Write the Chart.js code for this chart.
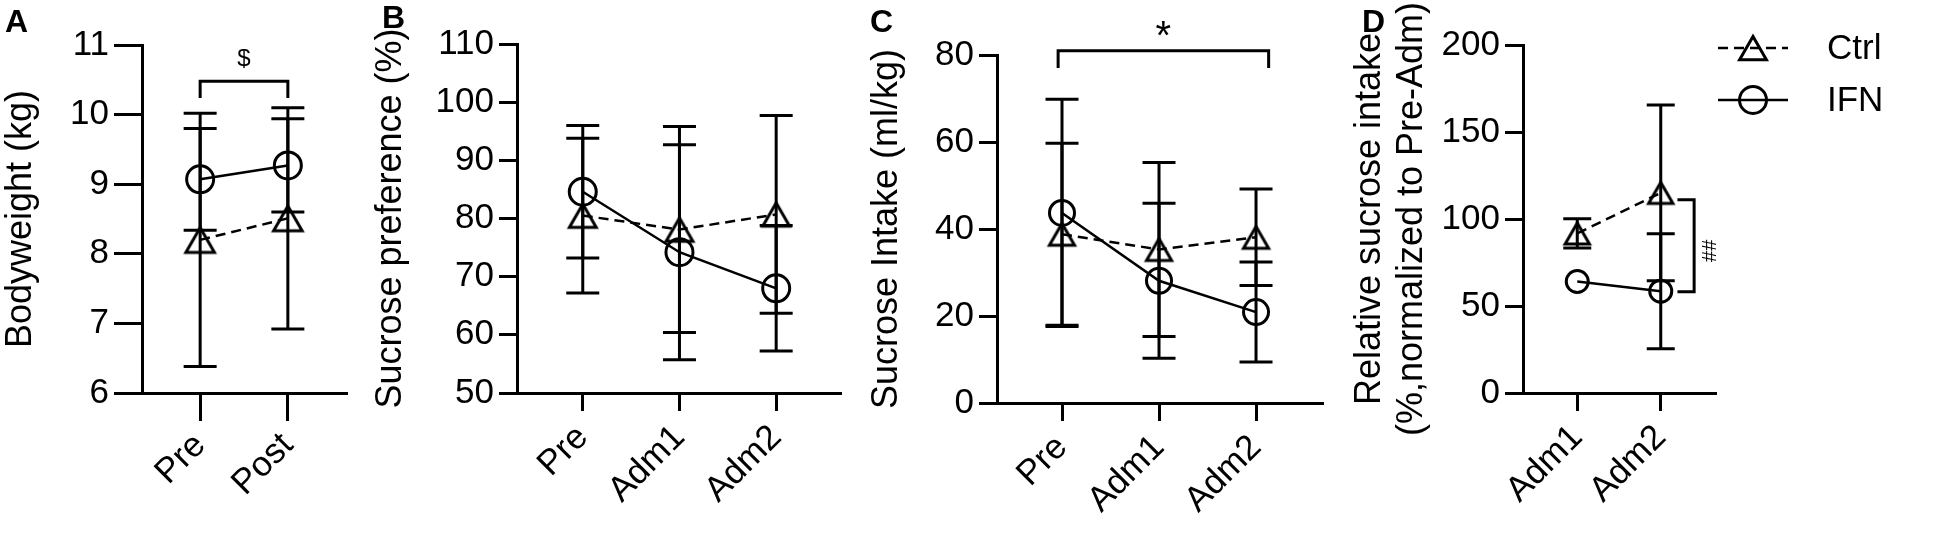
<!DOCTYPE html>
<html>
<head>
<meta charset="utf-8">
<script src="https://cdn.jsdelivr.net/npm/chart.js@4.4.1/dist/chart.umd.min.js"></script>
<style>
  html, body { margin: 0; padding: 0; background: #fff; }
  body { width: 1949px; height: 543px; position: relative; overflow: hidden; }
  .panel { position: absolute; top: 0; height: 543px; }
</style>
</head>
<body>
<div class="panel" style="left:0px;width:365px"><canvas id="chartA"></canvas></div>
<div class="panel" style="left:360px;width:500px"><canvas id="chartB"></canvas></div>
<div class="panel" style="left:860px;width:480px"><canvas id="chartC"></canvas></div>
<div class="panel" style="left:1345px;width:604px"><canvas id="chartD"></canvas></div>
<script>
/* =========================================================
   DATA (mean and SD)
========================================================= */

const groupNames = ["Ctrl", "IFN"];

// A - bodyweight (kg)
const weightLabels = ["Pre", "Post"];
const weightTicks = [6, 7, 8, 9, 10, 11];
const weightCtrl = [8.2, 8.51];
const weightCtrlSd = [1.82, 1.59];
const weightIfn = [9.07, 9.27];
const weightIfnSd = [0.73, 0.67];

// B - sucrose preference (%)
const prefLabels = ["Pre", "Adm1", "Adm2"];
const prefTicks = [50, 60, 70, 80, 90, 100, 110];
const prefCtrl = [80.5, 78.1, 80.7];
const prefCtrlSd = [13.3, 17.7, 17.0];
const prefIfn = [84.6, 74.2, 68.0];
const prefIfnSd = [11.4, 18.5, 10.8];

// C - sucrose intake (ml/kg)
const intakeLabels = ["Pre", "Adm1", "Adm2"];
const intakeTicks = [0, 20, 40, 60, 80];
const intakeCtrl = [38.8, 35.3, 38.1];
const intakeCtrlSd = [20.9, 20.0, 11.1];
const intakeIfn = [43.7, 28.1, 20.9];
const intakeIfnSd = [26.1, 17.8, 11.5];

// D - relative sucrose intake (% of Pre-Adm)
const relLabels = ["Adm1", "Adm2"];
const relTicks = [0, 50, 100, 150, 200];
const relCtrl = [91.7, 115.0];
const relCtrlSd = [8.4, 50.5];
const relIfn = [64.1, 58.5];
const relIfnSd = [0, 33.0];

/* =========================================================
   HELPERS
========================================================= */

const FONT = "'Liberation Sans', Arial, Helvetica, sans-serif";

function toPoints(values) {
  return values.map((v, i) => ({ x: i, y: v }));
}

// open triangle, centred on its bounding box like the original software does
function triangleImage(r, lw) {
  const s = Math.sqrt(3);
  const w = Math.ceil(r * s + lw * 3);
  const h = Math.ceil(r * 1.5 + lw * 4);
  const c = document.createElement("canvas");
  c.width = w;
  c.height = h;
  const g = c.getContext("2d");
  g.strokeStyle = "#000";
  g.lineWidth = lw;
  const cx = w / 2;
  const top = h / 2 - r * 0.75;
  g.beginPath();
  g.moveTo(cx, top);
  g.lineTo(cx + r * s / 2, top + 1.5 * r);
  g.lineTo(cx - r * s / 2, top + 1.5 * r);
  g.closePath();
  g.stroke();
  return c;
}

/* =========================================================
   PLUGINS
========================================================= */

const errorBars = {
  id: "errorBars",
  beforeDatasetsDraw(chart, args, opts) {
    const { ctx } = chart;
    const x = chart.scales.x;
    const y = chart.scales.y;
    ctx.save();
    ctx.strokeStyle = "#000";
    ctx.lineWidth = 3;
    chart.data.datasets.forEach(ds => {
      ds.data.forEach((pt, i) => {
        const sd = ds.sd[i];
        if (!sd) return;
        const px = x.getPixelForValue(pt.x);
        const top = y.getPixelForValue(pt.y + sd);
        const bot = y.getPixelForValue(pt.y - sd);
        const cap = opts.cap;
        ctx.beginPath();
        ctx.moveTo(px, top);
        ctx.lineTo(px, bot);
        ctx.moveTo(px - cap, top);
        ctx.lineTo(px + cap, top);
        ctx.moveTo(px - cap, bot);
        ctx.lineTo(px + cap, bot);
        ctx.stroke();
      });
    });
    ctx.restore();
  }
};

const notes = {
  id: "notes",
  afterDraw(chart, args, opts) {
    const { ctx } = chart;
    const x = chart.scales.x;
    const y = chart.scales.y;
    ctx.save();
    ctx.fillStyle = "#000";
    ctx.strokeStyle = "#000";
    ctx.lineWidth = 3;

    // panel letter
    if (opts.letter) {
      ctx.font = "bold 32px " + FONT;
      ctx.textAlign = "left";
      ctx.textBaseline = "alphabetic";
      ctx.fillText(opts.letter.text, opts.letter.x, opts.letter.y);
    }

    // significance brackets between time points
    (opts.brackets || []).forEach(b => {
      const x0 = x.getPixelForValue(b.x0);
      const x1 = x.getPixelForValue(b.x1);
      const yt = y.getPixelForValue(b.top);
      const yl = y.getPixelForValue(b.leg);
      ctx.beginPath();
      ctx.moveTo(x0, yl);
      ctx.lineTo(x0, yt);
      ctx.lineTo(x1, yt);
      ctx.lineTo(x1, yl);
      ctx.stroke();
      ctx.font = b.size + "px " + FONT;
      ctx.textAlign = "center";
      ctx.textBaseline = "alphabetic";
      ctx.fillText(b.text, (x0 + x1) / 2, y.getPixelForValue(b.textY));
    });

    // significance bracket between groups (vertical)
    (opts.sideBrackets || []).forEach(b => {
      const xb = x.getPixelForValue(b.x);
      const xl = x.getPixelForValue(b.leg);
      const y0 = y.getPixelForValue(b.y0);
      const y1 = y.getPixelForValue(b.y1);
      ctx.beginPath();
      ctx.moveTo(xl, y0);
      ctx.lineTo(xb, y0);
      ctx.lineTo(xb, y1);
      ctx.lineTo(xl, y1);
      ctx.stroke();
      ctx.save();
      ctx.translate(x.getPixelForValue(b.textX), (y0 + y1) / 2 + 5);
      ctx.rotate(-Math.PI / 2);
      ctx.font = b.size + "px " + FONT;
      ctx.textAlign = "center";
      ctx.textBaseline = "middle";
      ctx.fillText(b.text, 0, 0);
      ctx.restore();
    });

    // legend: line + symbol + name
    if (opts.legend) {
      const L = opts.legend;
      chart.data.datasets.forEach((ds, i) => {
        const ly = L.rows[i];
        ctx.save();
        ctx.lineWidth = ds.borderWidth;
        ctx.setLineDash(ds.borderDash || []);
        ctx.beginPath();
        ctx.moveTo(L.x0, ly);
        ctx.lineTo(L.x1, ly);
        ctx.stroke();
        ctx.restore();
        const mx = (L.x0 + L.x1) / 2;
        if (ds.legendMarker) {
          const img = ds.legendMarker;
          ctx.drawImage(img, mx - img.width / 2, ly - img.height / 2);
        } else {
          ctx.beginPath();
          ctx.arc(mx, ly, L.circle, 0, Math.PI * 2);
          ctx.stroke();
        }
        ctx.font = "35px " + FONT;
        ctx.textAlign = "left";
        ctx.textBaseline = "middle";
        ctx.fillText(ds.label, L.tx, ly + 1);
      });
    }
    ctx.restore();
  }
};

/* =========================================================
   PANEL BUILDER
========================================================= */

function makePanel(id, p) {
  const tick = { size: 35, family: FONT };
  return new Chart(document.getElementById(id), {
    type: "line",
    data: {
      datasets: [
        {
          label: groupNames[0],
          data: toPoints(p.ctrl),
          sd: p.ctrlSd,
          borderColor: "#000",
          borderWidth: 2.5,
          borderDash: [10, 6],
          pointStyle: triangleImage(p.tri, 3),
          legendMarker: p.legend ? triangleImage(15.5, 3) : null,
          pointRadius: p.tri,
          tension: 0,
          fill: false
        },
        {
          label: groupNames[1],
          data: toPoints(p.ifn),
          sd: p.ifnSd,
          borderColor: "#000",
          borderWidth: 2.5,
          pointStyle: "circle",
          pointRadius: p.circ,
          pointBorderWidth: 3,
          pointBorderColor: "#000",
          pointBackgroundColor: "rgba(0,0,0,0)",
          tension: 0,
          fill: false
        }
      ]
    },
    options: {
      responsive: true,
      maintainAspectRatio: false,
      animation: false,
      events: [],
      layout: { padding: p.padding },
      scales: {
        x: {
          type: "linear",
          min: p.xRange[0],
          max: p.xRange[1],
          afterBuildTicks: s => { s.ticks = p.labels.map((_, i) => ({ value: i })); },
          afterFit: s => { s.height = p.xh; },
          ticks: {
            autoSkip: false,
            minRotation: 45,
            maxRotation: 45,
            padding: p.xPad,
            color: "#000",
            font: tick,
            callback: v => p.labels[v]
          },
          grid: { drawOnChartArea: false, drawTicks: true, tickLength: p.tl, color: "#000", lineWidth: 3 },
          border: { display: true, color: "#000", width: 3 }
        },
        y: {
          min: p.yTicks[0],
          max: p.yTicks[p.yTicks.length - 1],
          afterBuildTicks: s => { s.ticks = p.yTicks.map(v => ({ value: v })); },
          afterFit: s => { s.width = p.yw; },
          ticks: { padding: 5, color: "#000", font: tick },
          grid: { drawOnChartArea: false, drawTicks: true, tickLength: p.tl, color: "#000", lineWidth: 3 },
          border: { display: true, color: "#000", width: 3 },
          title: {
            display: true,
            text: p.title,
            color: "#000",
            font: { size: 36, family: FONT, lineHeight: 1.17 },
            padding: { top: p.titlePad, bottom: 0 }
          }
        }
      },
      plugins: {
        legend: { display: false },
        tooltip: { enabled: false },
        errorBars: { cap: p.cap },
        notes: p.notes
      }
    },
    plugins: [errorBars, notes]
  });
}

/* =========================================================
   PANELS
========================================================= */

makePanel("chartA", {
  labels: weightLabels, yTicks: weightTicks,
  ctrl: weightCtrl, ctrlSd: weightCtrlSd, ifn: weightIfn, ifnSd: weightIfnSd,
  title: "Bodyweight (kg)", titlePad: 0,
  padding: { left: 0, top: 45, right: 10, bottom: 0 },
  yw: 142, xh: 150, tl: 28, xPad: 4, xRange: [-0.663, 1.663],
  tri: 16.5, circ: 13.5, cap: 16.5,
  notes: {
    letter: { text: "A", x: 5, y: 32 },
    brackets: [{ x0: 0, x1: 1, top: 10.48, leg: 10.24, text: "$", size: 24, textY: 10.7 }]
  }
});

makePanel("chartB", {
  labels: prefLabels, yTicks: prefTicks,
  ctrl: prefCtrl, ctrlSd: prefCtrlSd, ifn: prefIfn, ifnSd: prefIfnSd,
  title: "Sucrose preference (%)", titlePad: 10,
  padding: { left: 0, top: 44, right: 20, bottom: 0 },
  yw: 157, xh: 150, tl: 18, xPad: 6, xRange: [-0.68, 2.66],
  tri: 15.5, circ: 13.5, cap: 16.5,
  notes: {
    letter: { text: "B", x: 22, y: 28 }
  }
});

makePanel("chartC", {
  labels: intakeLabels, yTicks: intakeTicks,
  ctrl: intakeCtrl, ctrlSd: intakeCtrlSd, ifn: intakeIfn, ifnSd: intakeIfnSd,
  title: "Sucrose Intake (ml/kg)", titlePad: 6,
  padding: { left: 0, top: 55, right: 18, bottom: 0 },
  yw: 137, xh: 140, tl: 18, xPad: 6, xRange: [-0.67, 2.68],
  tri: 14.5, circ: 12.5, cap: 16.5,
  notes: {
    letter: { text: "C", x: 10, y: 32 },
    brackets: [{ x0: -0.04, x1: 2.13, top: 81, leg: 77, text: "*", size: 40, textY: 81.3 }]
  }
});

makePanel("chartD", {
  labels: relLabels, yTicks: relTicks,
  ctrl: relCtrl, ctrlSd: relCtrlSd, ifn: relIfn, ifnSd: relIfnSd,
  title: ["Relative sucrose intake", "(%,normalized to Pre-Adm)"], titlePad: 4,
  padding: { left: 0, top: 45, right: 234, bottom: 0 },
  yw: 178, xh: 150, tl: 18, xPad: 6, xRange: [-0.65, 1.65],
  tri: 14, circ: 11, cap: 14, legend: true,
  notes: {
    letter: { text: "D", x: 17, y: 32 },
    sideBrackets: [{ x: 1.4, leg: 1.2, y0: 111, y1: 58.2, text: "##", size: 20, textX: 1.59 }],
    legend: { x0: 373, x1: 443, tx: 482, rows: [48, 100], circle: 13.5 }
  }
});
</script>
</body>
</html>
